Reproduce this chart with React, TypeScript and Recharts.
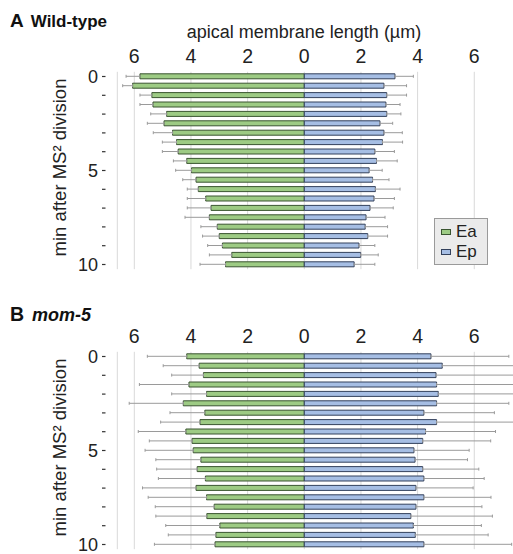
import { Bar, BarChart, CartesianGrid, ErrorBar, Legend, XAxis, YAxis } from 'recharts'

// minutes after MS² division (one row every 0.5 min)
const TIMES = [0, 0.5, 1, 1.5, 2, 2.5, 3, 3.5, 4, 4.5, 5, 5.5, 6, 6.5, 7, 7.5, 8, 8.5, 9, 9.5, 10]

// wild-type: mean length and end of the (one-sided) error whisker, µm
const WT_EA = [5.8, 6.06, 5.38, 5.34, 4.86, 4.95, 4.65, 4.51, 4.45, 4.15, 3.98, 3.82, 3.74, 3.48, 3.29, 3.35, 3.07, 3.0, 2.89, 2.56, 2.78]
const WT_EA_END = [6.29, 6.41, 5.8, 5.8, 5.42, 5.54, 5.33, 5.01, 5.01, 4.62, 4.54, 4.29, 4.13, 4.13, 4.13, 4.21, 3.65, 3.59, 3.41, 3.35, 3.68]
const WT_EP = [3.2, 2.81, 2.91, 2.88, 2.91, 2.67, 2.81, 2.76, 2.49, 2.55, 2.29, 2.41, 2.51, 2.46, 2.32, 2.18, 2.15, 2.24, 1.93, 1.99, 1.76]
const WT_EP_END = [3.85, 3.61, 3.61, 3.38, 3.41, 3.12, 3.46, 3.47, 3.18, 3.28, 2.75, 2.99, 3.38, 3.18, 3.14, 2.85, 2.94, 2.94, 2.49, 2.61, 2.49]

// mom-5
const MOM5_EA = [4.15, 3.71, 3.56, 4.07, 3.45, 4.27, 3.51, 3.68, 4.18, 3.96, 3.92, 3.65, 3.78, 3.49, 3.82, 3.45, 3.18, 3.44, 2.98, 3.12, 3.15]
const MOM5_EA_END = [5.54, 4.98, 4.68, 5.82, 4.68, 6.18, 4.74, 5.07, 5.86, 5.47, 5.62, 5.24, 5.21, 5.15, 5.71, 5.51, 5.26, 5.24, 4.89, 4.8, 5.29]
const MOM5_EP = [4.47, 4.87, 4.65, 4.67, 4.73, 4.67, 4.22, 4.67, 4.28, 4.18, 3.87, 3.91, 4.18, 4.22, 3.94, 4.22, 3.94, 3.76, 3.85, 3.92, 4.22]
const MOM5_EP_END = [7.22, 7.8, 7.8, 7.8, 7.8, 7.22, 6.71, 7.8, 6.75, 6.58, 5.82, 5.76, 6.16, 6.35, 5.96, 6.59, 6.27, 6.64, 6.25, 6.49, 7.32]

const X_TICKS = [-6, -4, -2, 0, 2, 4, 6]
const LABELLED_TIMES = [0, 5, 10]

const GREEN = '#9dcb84'
const GREEN_EDGE = '#3a5530'
const BLUE = '#a6bee4'
const BLUE_EDGE = '#33415c'
const WHISKER = '#9a9a9a'
const FONT = 'Arial, "Liberation Sans", sans-serif'

type Row = {
  t: number
  ea: number
  ep: number
  eaErr: [number, number]
  epErr: [number, number]
}

function buildRows(ea: number[], eaEnd: number[], ep: number[], epEnd: number[]): Row[] {
  return TIMES.map((t, i) => ({
    t,
    ea: -ea[i],
    ep: ep[i],
    eaErr: [eaEnd[i] - ea[i], 0],
    epErr: [0, epEnd[i] - ep[i]],
  }))
}

const wildTypeRows = buildRows(WT_EA, WT_EA_END, WT_EP, WT_EP_END)
const mom5Rows = buildRows(MOM5_EA, MOM5_EA_END, MOM5_EP, MOM5_EP_END)

function TimeTick(props: any) {
  const { y, payload } = props
  const v = Number(payload.value)
  return (
    <g>
      {Number.isInteger(v) && <line x1={102} x2={105.5} y1={y} y2={y} stroke="#333" strokeWidth={1.2} />}
      {LABELLED_TIMES.includes(v) && (
        <text x={98} y={y} dy="0.36em" textAnchor="end" fontSize={18} fill="#222" fontFamily={FONT}>
          {v}
        </text>
      )}
    </g>
  )
}

function LegendBox(props: any) {
  const items = props.payload ?? []
  return (
    <div
      style={{
        width: 54,
        height: 47,
        background: '#ebebeb',
        border: '1px solid #9a9a9a',
        fontFamily: FONT,
        fontSize: 17,
        color: '#222',
        paddingTop: 3,
        boxSizing: 'border-box',
      }}
    >
      {items.map((item: any) => (
        <div key={item.value} style={{ display: 'flex', alignItems: 'center', height: 20, paddingLeft: 6 }}>
          <span
            style={{
              display: 'inline-block',
              width: 8,
              height: 4,
              background: item.value === 'Ea' ? GREEN : BLUE,
              border: `1px solid ${item.value === 'Ea' ? GREEN_EDGE : BLUE_EDGE}`,
              marginRight: 5,
            }}
          />
          {item.value}
        </div>
      ))}
    </div>
  )
}

function Panel({ rows, top, withLegend }: { rows: Row[]; top: number; withLegend?: boolean }) {
  return (
    <div style={{ position: 'absolute', left: 0, top }}>
      <BarChart
        width={530}
        height={280}
        data={rows}
        layout="vertical"
        margin={{ top: 41.8, right: 10.4, bottom: 10.8, left: 57.3 }}
        barSize={5}
        barGap={-5}
      >
        <CartesianGrid horizontal={false} stroke="#d9d9d9" />
        <XAxis
          type="number"
          orientation="top"
          domain={[-6.6, 7.6]}
          allowDataOverflow
          ticks={X_TICKS}
          tickFormatter={(v: number) => String(Math.abs(v))}
          axisLine={false}
          tickLine={false}
          tickSize={6}
          tickMargin={3}
          height={30}
          tick={{ fontSize: 19.5, fill: '#222', fontFamily: FONT }}
        />
        <YAxis
          type="category"
          dataKey="t"
          width={60}
          interval={0}
          axisLine={false}
          tickLine={false}
          tick={<TimeTick />}
        />
        <Bar dataKey="ea" name="Ea" fill={GREEN} stroke={GREEN_EDGE} strokeWidth={1} isAnimationActive={false}>
          <ErrorBar dataKey="eaErr" direction="x" width={1.5} stroke={WHISKER} strokeWidth={1} />
        </Bar>
        <Bar dataKey="ep" name="Ep" fill={BLUE} stroke={BLUE_EDGE} strokeWidth={1} isAnimationActive={false}>
          <ErrorBar dataKey="epErr" direction="x" width={1.5} stroke={WHISKER} strokeWidth={1} />
        </Bar>
        {withLegend && (
          <Legend
            layout="vertical"
            align="center"
            verticalAlign="middle"
            content={<LegendBox />}
            wrapperStyle={{ position: 'absolute', left: 434, top: 218, width: 56, height: 49 }}
          />
        )}
      </BarChart>
    </div>
  )
}

export default function App() {
  return (
    <div
      style={{
        position: 'absolute',
        left: 0,
        top: 0,
        width: 513,
        height: 554,
        overflow: 'hidden',
        background: '#fff',
        fontFamily: FONT,
      }}
    >
      <Panel rows={wildTypeRows} top={0} withLegend />
      <Panel rows={mom5Rows} top={280} />
      <svg
        width={513}
        height={554}
        style={{ position: 'absolute', left: 0, top: 0, pointerEvents: 'none' }}
        fontFamily={FONT}
      >
        <text x={10} y={27} fontSize={19} fontWeight="bold" fill="#111">
          A
          <tspan dx={7} fontSize={17}>Wild-type</tspan>
        </text>
        <text x={304} y={38} fontSize={18} textAnchor="middle" fill="#222">
          apical membrane length (µm)
        </text>
        <text x={66} y={167.5} fontSize={18.5} textAnchor="middle" fill="#222" transform="rotate(-90 66 167.5)">
          min after MS² division
        </text>
        <text x={10} y={321} fontSize={19.5} fontWeight="bold" fill="#111">
          B
          <tspan dx={8} fontSize={18} fontStyle="italic">mom-5</tspan>
        </text>
        <text x={66} y={447.5} fontSize={18.5} textAnchor="middle" fill="#222" transform="rotate(-90 66 447.5)">
          min after MS² division
        </text>
      </svg>
    </div>
  )
}
